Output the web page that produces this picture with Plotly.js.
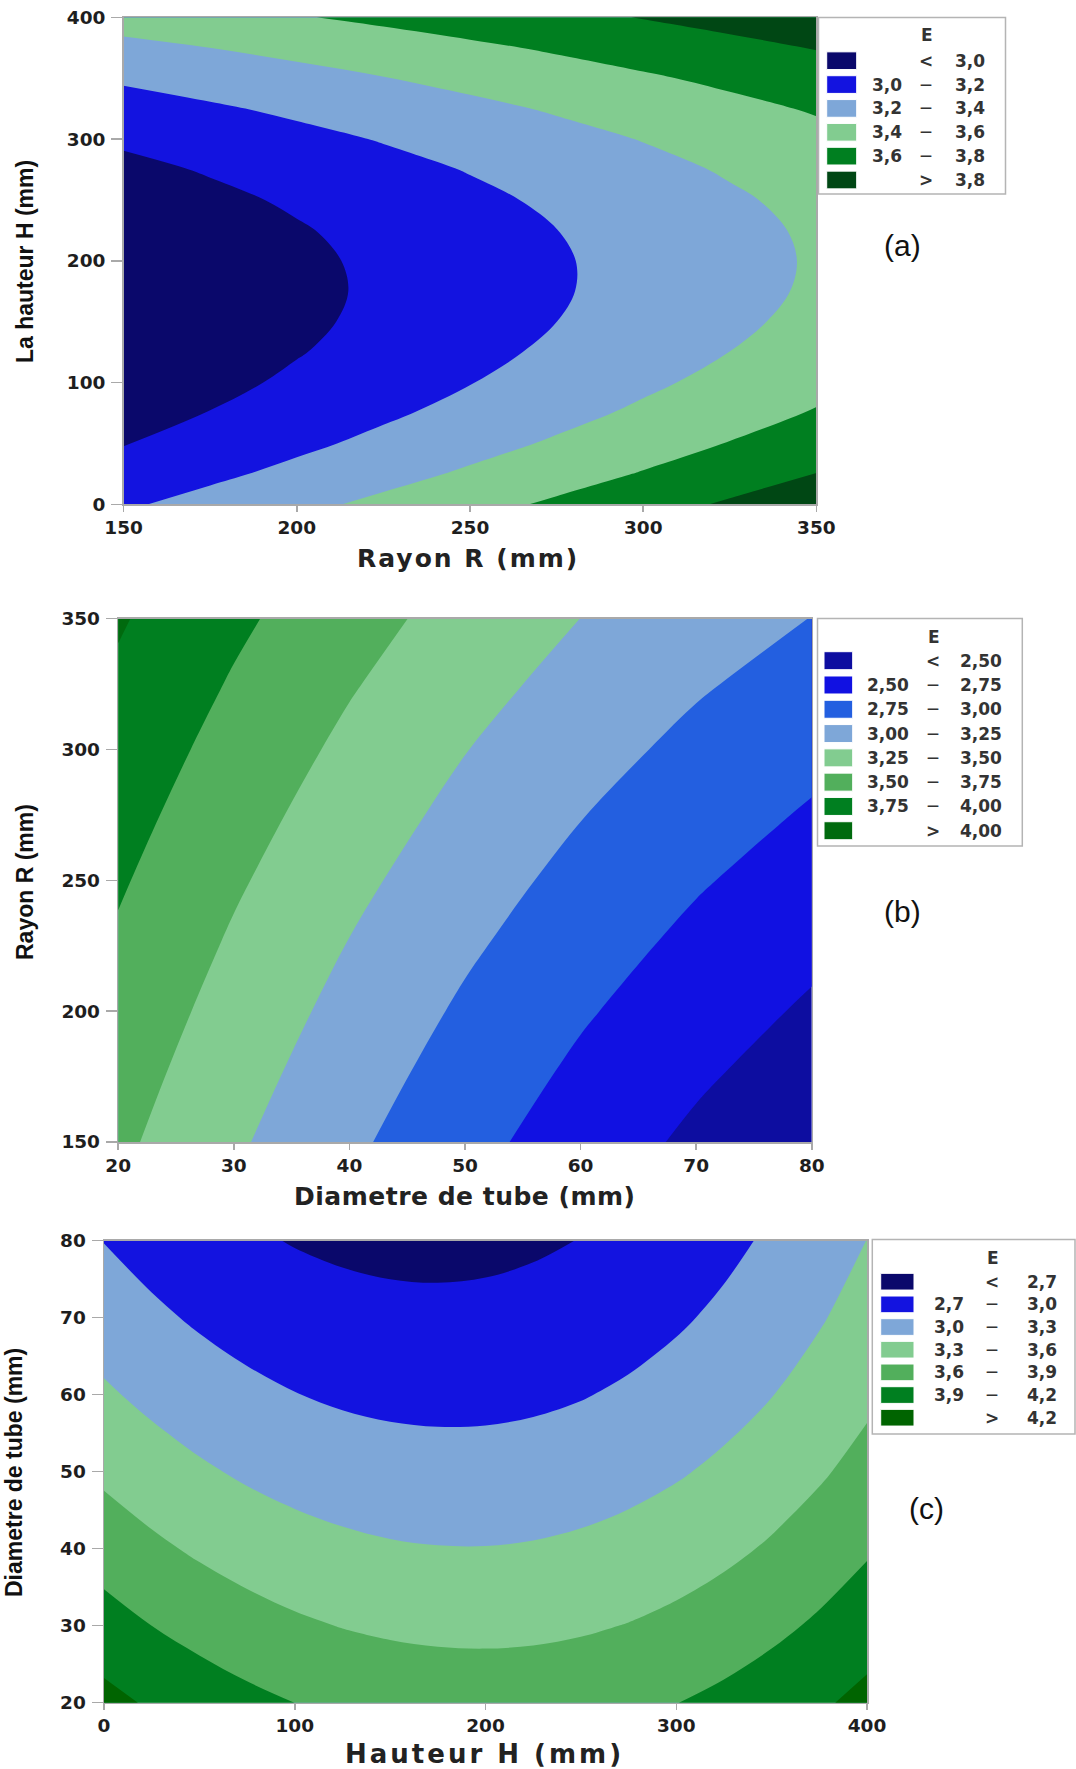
<!DOCTYPE html>
<html>
<head>
<meta charset="utf-8">
<script src="https://cdn.plot.ly/plotly-3.0.1.min.js"></script>
<style>
  html, body { margin: 0; padding: 0; background: #ffffff; }
  #chart { width: 1076px; height: 1769px; }
</style>
</head>
<body>
<div id="chart"></div>
<script>
// ---------------- Panel (a): E vs Rayon R (x) and La hauteur H (y) ----------------
const rayonA = [150, 175, 200, 225, 250, 275, 300, 325, 350];
const hauteurA = [0, 25, 50, 75, 100, 125, 150, 175, 200, 225, 250, 275, 300, 325, 350, 375, 400];
const eA = [
  [3.175, 3.263, 3.352, 3.443, 3.535, 3.630, 3.725, 3.823, 3.922],
  [3.076, 3.161, 3.248, 3.336, 3.427, 3.518, 3.612, 3.707, 3.803],
  [2.992, 3.075, 3.160, 3.246, 3.334, 3.423, 3.514, 3.607, 3.701],
  [2.925, 3.005, 3.087, 3.171, 3.256, 3.343, 3.432, 3.522, 3.614],
  [2.873, 2.951, 3.031, 3.112, 3.195, 3.280, 3.366, 3.454, 3.543],
  [2.837, 2.913, 2.990, 3.069, 3.150, 3.232, 3.316, 3.401, 3.488],
  [2.817, 2.890, 2.965, 3.042, 3.120, 3.1996, 3.281, 3.364, 3.449],
  [2.812, 2.883, 2.956, 3.030, 3.106, 3.183, 3.263, 3.343, 3.425],
  [2.824, 2.893, 2.963, 3.035, 3.108, 3.183, 3.260, 3.338, 3.418],
  [2.852, 2.918, 2.985, 3.055, 3.126, 3.1985, 3.273, 3.349, 3.426],
  [2.895, 2.959, 3.024, 3.091, 3.160, 3.230, 3.302, 3.375, 3.450],
  [2.954, 3.015, 3.078, 3.143, 3.209, 3.277, 3.347, 3.418, 3.490],
  [3.029, 3.088, 3.149, 3.211, 3.275, 3.340, 3.407, 3.476, 3.546],
  [3.120, 3.176, 3.235, 3.294, 3.356, 3.419, 3.484, 3.550, 3.618],
  [3.226, 3.281, 3.336, 3.394, 3.453, 3.514, 3.576, 3.640, 3.705],
  [3.349, 3.4006, 3.454, 3.509, 3.566, 3.624, 3.684, 3.746, 3.809],
  [3.487, 3.537, 3.588, 3.640, 3.695, 3.750, 3.808, 3.867, 3.928]
];
const levelsA = [3.0, 3.2, 3.4, 3.6, 3.8];
const labelsA = ['3,0', '3,2', '3,4', '3,6', '3,8'];
const colorsA = ['#0a086b', '#1313e0', '#7ea7d8', '#82cc90', '#007f20', '#004714'];
const xTicksA = [150, 200, 250, 300, 350];
const yTicksA = [0, 100, 200, 300, 400];

// ---------------- Panel (b): E vs Diametre de tube (x) and Rayon R (y) ----------------
const diamB = [20, 30, 40, 50, 60, 70, 80];
const rayonB = [150, 175, 200, 225, 250, 275, 300, 325, 350];
const eB = [
  [3.550, 3.286, 3.045, 2.826, 2.629, 2.454, 2.302],
  [3.605, 3.346, 3.109, 2.895, 2.702, 2.532, 2.384],
  [3.661, 3.407, 3.174, 2.9645, 2.777, 2.611, 2.468],
  [3.718, 3.469, 3.241, 3.036, 2.852, 2.692, 2.553],
  [3.777, 3.532, 3.309, 3.108, 2.929, 2.773, 2.639],
  [3.837, 3.596, 3.378, 3.182, 3.008, 2.856, 2.726],
  [3.898, 3.662, 3.448, 3.2565, 3.087, 2.940, 2.815],
  [3.960, 3.729, 3.520, 3.333, 3.168, 3.025, 2.905],
  [4.024, 3.797, 3.592, 3.410, 3.249, 3.112, 2.996]
];
const levelsB = [2.5, 2.75, 3.0, 3.25, 3.5, 3.75, 4.0];
const labelsB = ['2,50', '2,75', '3,00', '3,25', '3,50', '3,75', '4,00'];
const colorsB = ['#0d0da0', '#1111e2', '#235fe0', '#7ea7d8', '#82cc90', '#52af5c', '#007f20', '#006a0e'];
const xTicksB = [20, 30, 40, 50, 60, 70, 80];
const yTicksB = [150, 200, 250, 300, 350];

// ---------------- Panel (c): E vs Hauteur H (x) and Diametre de tube (y) ----------------
const hauteurC = [0, 25, 50, 75, 100, 125, 150, 175, 200, 225, 250, 275, 300, 325, 350, 375, 400];
const diamC = [20, 30, 40, 50, 60, 70, 80];
const eC = [
  [4.286, 4.165, 4.061, 3.972, 3.8995, 3.843, 3.803, 3.778, 3.770, 3.777, 3.801, 3.841, 3.896, 3.968, 4.056, 4.160, 4.280],
  [4.017, 3.8999, 3.799, 3.713, 3.644, 3.591, 3.554, 3.533, 3.528, 3.539, 3.566, 3.609, 3.668, 3.743, 3.834, 3.941, 4.064],
  [3.770, 3.656, 3.558, 3.476, 3.410, 3.360, 3.326, 3.309, 3.307, 3.321, 3.351, 3.397, 3.460, 3.538, 3.632, 3.743, 3.869],
  [3.544, 3.433, 3.339, 3.260, 3.197, 3.151, 3.120, 3.106, 3.107, 3.125, 3.158, 3.208, 3.273, 3.355, 3.453, 3.566, 3.696],
  [3.339, 3.232, 3.140, 3.065, 3.006, 2.962, 2.935, 2.924, 2.929, 2.949, 2.986, 3.039, 3.108, 3.193, 3.294, 3.411, 3.544],
  [3.156, 3.052, 2.964, 2.891, 2.835, 2.795, 2.771, 2.763, 2.771, 2.795, 2.836, 2.892, 2.964, 3.052, 3.156, 3.277, 3.413],
  [2.994, 2.893, 2.808, 2.739, 2.686, 2.649, 2.629, 2.624, 2.635, 2.663, 2.706, 2.766, 2.841, 2.933, 3.040, 3.164, 3.303]
];
const levelsC = [2.7, 3.0, 3.3, 3.6, 3.9, 4.2];
const labelsC = ['2,7', '3,0', '3,3', '3,6', '3,9', '4,2'];
const colorsC = ['#0a086b', '#1313e0', '#7ea7d8', '#82cc90', '#52af5c', '#007f20', '#006400'];
const xTicksC = [0, 100, 200, 300, 400];
const yTicksC = [20, 30, 40, 50, 60, 70, 80];

// ---------------- helpers ----------------
const W = 1076, H = 1769;
const px = v => v / W;
const py = v => 1 - v / H;

function contourTrace(x, y, z, levels, colors, xa, ya) {
  const n = colors.length;
  return {
    type: 'contour', x: x, y: y, z: z, xaxis: xa, yaxis: ya,
    autocontour: false,
    contours: { coloring: 'fill', showlines: false, start: levels[0], end: levels[levels.length - 1],
                size: (levels[levels.length - 1] - levels[0]) / (levels.length - 1) },
    colorscale: colors.map((c, i) => [i / (n - 1), c]),
    showscale: false,
    line: { width: 0, smoothing: 1 },
    hoverinfo: 'skip'
  };
}

const tickFont = { family: 'DejaVu Sans, Verdana, sans-serif', size: 18.5, color: '#1e1e1e', weight: 'bold' };
function axis(extra) {
  return Object.assign({
    showline: true, mirror: true, linecolor: '#a9a9a9', linewidth: 1.5,
    ticks: 'outside', ticklen: 6, tickwidth: 1.5, tickcolor: '#a9a9a9',
    showgrid: false, zeroline: false, tickfont: tickFont, fixedrange: true,
    ticklabelstandoff: 0
  }, extra);
}

const shapes = [];
const annotations = [];
const legFont = { family: 'DejaVu Sans, Verdana, sans-serif', size: 17, color: '#333333', weight: 'bold' };
const dashFont = { family: 'DejaVu Sans, Verdana, sans-serif', size: 12, color: '#333333', weight: 'bold' };

function addLegend(g, labels, colors) {
  shapes.push({ type: 'rect', xref: 'paper', yref: 'paper', x0: px(g.x0), x1: px(g.x1), y0: py(g.y1), y1: py(g.y0),
                line: { color: '#b4b4b4', width: 1.5 }, fillcolor: '#ffffff', layer: 'above' });
  annotations.push({ xref: 'paper', yref: 'paper', x: px(g.hx), y: py(g.hy), text: 'E', showarrow: false,
                     xanchor: 'center', yanchor: 'middle', font: legFont });
  const n = colors.length;
  for (let i = 0; i < n; i++) {
    const cy = g.row0 + i * g.dy;
    shapes.push({ type: 'rect', xref: 'paper', yref: 'paper', x0: px(g.sw0), x1: px(g.sw1),
                  y0: py(cy + g.swh / 2), y1: py(cy - g.swh / 2),
                  line: { color: '#ffffff', width: 1 }, fillcolor: colors[i], layer: 'above' });
    let left = '', mid = '', right = '', mf = legFont;
    if (i === 0) { mid = '<'; right = labels[0]; }
    else if (i === n - 1) { mid = '>'; right = labels[n - 2]; }
    else { left = labels[i - 1]; mid = '\u2014'; right = labels[i]; mf = dashFont; }
    if (left) annotations.push({ xref: 'paper', yref: 'paper', x: px(g.lx), y: py(cy), text: left, showarrow: false,
                                 xanchor: 'right', yanchor: 'middle', font: legFont });
    annotations.push({ xref: 'paper', yref: 'paper', x: px(g.mx), y: py(cy), text: mid, showarrow: false,
                       xanchor: 'center', yanchor: 'middle', font: mf });
    annotations.push({ xref: 'paper', yref: 'paper', x: px(g.rx), y: py(cy), text: right, showarrow: false,
                       xanchor: 'right', yanchor: 'middle', font: legFont });
  }
}

addLegend({ x0: 818.5, y0: 17.5, x1: 1005.5, y1: 194, hx: 926.7, hy: 35, row0: 60.7, dy: 23.86,
            sw0: 826.7, sw1: 856.7, swh: 17.7, lx: 904, mx: 926, rx: 987 }, labelsA, colorsA);
addLegend({ x0: 817.5, y0: 618.5, x1: 1022.3, y1: 846, hx: 934, hy: 636.7, row0: 660.7, dy: 24.29,
            sw0: 824, sw1: 852.7, swh: 18, lx: 911, mx: 932.5, rx: 1004 }, labelsB, colorsB);
addLegend({ x0: 872.3, y0: 1239.5, x1: 1075, y1: 1434, hx: 993.3, hy: 1257.7, row0: 1281.7, dy: 22.67,
            sw0: 880.7, sw1: 914, swh: 16.7, lx: 966, mx: 991.5, rx: 1059 }, labelsC, colorsC);

const xTitleFont = { family: 'DejaVu Sans, Verdana, sans-serif', size: 25, color: '#222222', weight: 'bold' };
const xTitleFontC = { family: 'DejaVu Sans, Verdana, sans-serif', size: 26, color: '#222222', weight: 'bold' };
const yTitleFont = { family: 'Liberation Sans, Arial, sans-serif', size: 23, color: '#111111', weight: 'bold' };
function addTitle(text, x, y, font, angle) {
  annotations.push({ xref: 'paper', yref: 'paper', x: px(x), y: py(y), text: text, showarrow: false,
                     xanchor: 'center', yanchor: 'middle', font: font, textangle: angle || 0 });
}
const spaced = (t, s) => '<span style="letter-spacing:' + s + 'px">' + t + '</span>';
addTitle(spaced('Rayon R (mm)', 2), 468, 558, xTitleFont);
addTitle('La hauteur H (mm)', 25, 262, yTitleFont, -90);
addTitle(spaced('Diametre de tube (mm)', 0.5), 464, 1196, xTitleFont);
addTitle('Rayon R (mm)', 25, 882, yTitleFont, -90);
addTitle(spaced('Hauteur H (mm)', 3), 484, 1754, xTitleFontC);
addTitle('Diametre de tube (mm)', 14, 1473, yTitleFont, -90);

const tagFont = { family: 'Liberation Sans, Arial, sans-serif', size: 30, color: '#111111' };
addTitle('(a)', 902, 245, tagFont);
addTitle('(b)', 902, 911, tagFont);
addTitle('(c)', 926, 1508, tagFont);

const data = [
  contourTrace(rayonA, hauteurA, eA, levelsA, colorsA, 'x', 'y'),
  contourTrace(diamB, rayonB, eB, levelsB, colorsB, 'x2', 'y2'),
  contourTrace(hauteurC, diamC, eC, levelsC, colorsC, 'x3', 'y3')
];

const layout = {
  width: W, height: H,
  margin: { l: 0, r: 0, t: 0, b: 0 },
  paper_bgcolor: '#ffffff', plot_bgcolor: '#ffffff',
  showlegend: false,
  xaxis: axis({ domain: [px(123.6), px(816.4)], range: [150, 350], anchor: 'y', tickvals: xTicksA }),
  yaxis: axis({ domain: [py(504.3), py(17.3)], range: [0, 400], anchor: 'x', tickvals: yTicksA, ticklen: 11, ticklabelstandoff: 2 }),
  xaxis2: axis({ domain: [px(118.2), px(811.8)], range: [20, 80], anchor: 'y2', tickvals: xTicksB }),
  yaxis2: axis({ domain: [py(1142), py(618.6)], range: [150, 350], anchor: 'x2', tickvals: yTicksB, ticklen: 11, ticklabelstandoff: 2 }),
  xaxis3: axis({ domain: [px(104), px(867)], range: [0, 400], anchor: 'y3', tickvals: xTicksC }),
  yaxis3: axis({ domain: [py(1702.7), py(1240.7)], range: [20, 80], anchor: 'x3', tickvals: yTicksC, ticklen: 11, ticklabelstandoff: 2 }),
  shapes: shapes,
  annotations: annotations
};

Plotly.newPlot('chart', data, layout, { displayModeBar: false, staticPlot: true });
</script>
</body>
</html>
